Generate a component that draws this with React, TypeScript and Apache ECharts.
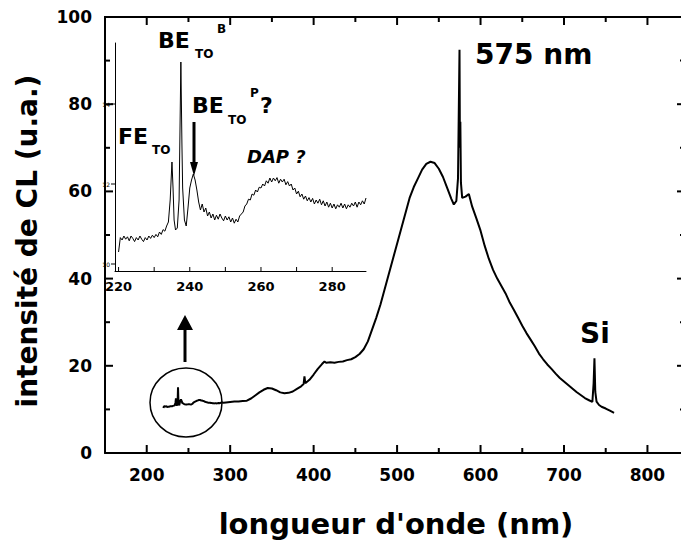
import React, { useEffect, useRef } from "react";
import * as echarts from "echarts";

// Inset data (nm, intensity u.a.) — zoom of the 220–290 nm region
const INSET_DATA: [number, number][] = [
  [220.0, 10.3], [220.5, 10.66], [221.0, 10.6], [221.5, 10.7], [222.0, 10.62], [222.5, 10.68],
  [223.0, 10.58], [223.5, 10.7], [224.0, 10.64], [224.5, 10.56], [225.0, 10.66], [225.5, 10.6],
  [226.0, 10.7], [226.5, 10.62], [227.0, 10.56], [227.5, 10.66], [228.0, 10.6], [228.5, 10.7],
  [229.0, 10.64], [229.5, 10.72], [230.0, 10.66], [230.5, 10.74], [231.0, 10.68], [231.5, 10.8],
  [232.0, 10.74], [232.5, 10.86], [233.0, 10.82], [233.5, 10.95], [234.0, 11.05], [234.5, 11.6],
  [235.0, 12.55], [235.3, 11.9], [235.6, 11.1], [236.0, 10.85], [236.5, 10.9], [237.0, 11.6],
  [237.5, 15.05], [237.8, 13.0], [238.0, 11.9], [238.5, 11.1], [239.0, 10.95], [239.5, 11.4],
  [240.0, 11.9], [240.5, 12.1], [241.0, 12.25], [241.5, 12.1], [242.0, 11.85], [242.5, 11.55],
  [243.0, 11.35], [243.5, 11.5], [244.0, 11.3], [244.5, 11.4], [245.0, 11.2], [245.5, 11.3],
  [246.0, 11.15], [246.5, 11.25], [247.0, 11.1], [247.5, 11.22], [248.0, 11.12], [248.5, 11.25],
  [249.0, 11.15], [249.5, 11.08], [250.0, 11.2], [250.5, 11.1], [251.0, 11.18], [251.5, 11.05],
  [252.0, 11.15], [252.5, 11.02], [253.0, 11.12], [253.5, 11.05], [254.0, 11.2], [254.5, 11.25],
  [255.0, 11.3], [255.5, 11.45], [256.0, 11.5], [256.5, 11.62], [257.0, 11.6], [257.5, 11.75],
  [258.0, 11.72], [258.5, 11.85], [259.0, 11.8], [259.5, 11.92], [260.0, 11.9], [260.5, 12.0],
  [261.0, 11.95], [261.5, 12.08], [262.0, 12.02], [262.5, 12.15], [263.0, 12.05], [263.5, 12.15],
  [264.0, 12.08], [264.5, 12.16], [265.0, 12.02], [265.5, 12.12], [266.0, 12.05], [266.5, 12.12],
  [267.0, 11.98], [267.5, 12.06], [268.0, 11.95], [268.5, 12.0], [269.0, 11.85], [269.5, 11.9],
  [270.0, 11.75], [270.5, 11.82], [271.0, 11.68], [271.5, 11.75], [272.0, 11.62], [272.5, 11.7],
  [273.0, 11.58], [273.5, 11.66], [274.0, 11.55], [274.5, 11.64], [275.0, 11.5], [275.5, 11.6],
  [276.0, 11.52], [276.5, 11.62], [277.0, 11.48], [277.5, 11.58], [278.0, 11.45], [278.5, 11.55],
  [279.0, 11.42], [279.5, 11.52], [280.0, 11.4], [280.5, 11.5], [281.0, 11.38], [281.5, 11.48],
  [282.0, 11.42], [282.5, 11.52], [283.0, 11.4], [283.5, 11.5], [284.0, 11.38], [284.5, 11.48],
  [285.0, 11.42], [285.5, 11.52], [286.0, 11.45], [286.5, 11.55], [287.0, 11.42], [287.5, 11.55],
  [288.0, 11.48], [288.5, 11.58], [289.0, 11.5], [289.5, 11.65],
];

// Main spectrum beyond 290 nm
const MAIN_DATA: [number, number][] = [
  [292, 11.5], [295, 11.6], [300, 11.7], [305, 11.8], [310, 11.8], [315, 11.9], [320, 12.0],
  [325, 12.5], [330, 13.2], [335, 13.9], [340, 14.5], [345, 14.9], [350, 14.8], [355, 14.4],
  [360, 13.9], [365, 13.7], [370, 13.8], [375, 14.1], [380, 14.7], [385, 15.3], [388, 15.8],
  [389, 17.6], [390, 16.0], [395, 16.8], [400, 18.0], [405, 19.3], [410, 20.4], [413, 21.0],
  [415, 20.7], [420, 20.8], [425, 20.7], [430, 20.9], [435, 21.0], [440, 21.3], [445, 21.5],
  [450, 22.0], [455, 22.7], [460, 23.8], [465, 25.6], [470, 28.3], [475, 31.0], [480, 34.0],
  [485, 37.5], [490, 41.0], [495, 44.5], [500, 48.0], [505, 51.5], [510, 55.0], [515, 58.5],
  [520, 61.0], [525, 63.0], [530, 65.0], [535, 66.3], [540, 66.8], [545, 66.5], [550, 65.2],
  [555, 63.3], [560, 60.8], [565, 58.3], [568, 57.0], [571, 57.8], [573, 63.0], [574.8, 92.5],
  [575.3, 70.0], [575.8, 76.0], [576.5, 62.0], [578, 58.5], [582, 58.8], [586, 59.4],
  [590, 56.5], [595, 53.8], [600, 51.0], [605, 47.5], [610, 44.5], [615, 42.0], [620, 40.0],
  [625, 38.3], [630, 36.6], [635, 34.5], [640, 32.8], [645, 31.0], [650, 29.2], [655, 27.5],
  [660, 26.0], [665, 24.5], [670, 22.8], [675, 21.5], [680, 20.3], [685, 19.3], [690, 18.2],
  [695, 17.2], [700, 16.4], [705, 15.6], [710, 14.8], [715, 14.0], [720, 13.3], [725, 12.6],
  [730, 12.1], [734, 11.7], [735.5, 16.0], [736.5, 21.7], [737.5, 14.0], [739, 11.8],
  [742, 11.0], [745, 10.6], [750, 10.2], [755, 9.7], [760, 9.2],
];

const X_MIN = 150;
const X_MAX = 845;
const X_MAJOR_TICKS = [200, 300, 400, 500, 600, 700, 800];
const X_MINOR_TICKS = [250, 350, 450, 550, 650, 750];
const Y_MAJOR_TICKS = [20, 40, 60, 80];
const Y_MINOR_TICKS = [10, 30, 50, 70, 90];
const INSET_X_MIN = 219;
const INSET_Y_MIN = 9.825;
const INSET_Y_MAX = 15.525;
const INSET_X_TICKS = [220, 230, 240, 250, 260, 270, 280];
const INSET_X_LABELS = [220, 240, 260, 280];
const INSET_Y_LABELS = [10, 12, 14];

const X_TITLE = "longueur d'onde (nm)";
const Y_TITLE = "intensité de CL (u.a.)";

const FONT = "DejaVu Sans";

export default function App() {
  const ref = useRef<HTMLDivElement>(null);

  useEffect(() => {
    document.body.style.margin = "0";
    const chart = echarts.init(ref.current!, undefined, { renderer: "svg" });

    const txt = (text: string, x: number, y: number, size: number, extra: any = {}) => ({
      type: "text",
      x,
      y,
      style: {
        text,
        fill: "#000",
        font: `${extra.italic ? "italic " : ""}bold ${size}px "${FONT}"`,
        textAlign: extra.align || "left",
        textVerticalAlign: "middle",
      },
      rotation: extra.rotation || 0,
      z: 10,
    });

    chart.setOption({
      animation: false,
      grid: [
        { left: 105, top: 17, width: 580, height: 436, outerBoundsMode: "none" },
        { left: 115, top: 43, width: 251, height: 228, outerBoundsMode: "none" },
      ],
      xAxis: [
        {
          type: "value", gridIndex: 0, min: X_MIN, max: X_MAX, position: "bottom",
          splitLine: { show: false },
          axisLine: { show: true, lineStyle: { color: "#000", width: 2 } },
          axisTick: { show: false },
          axisLabel: {
            show: true, customValues: X_MAJOR_TICKS, margin: 13, color: "#000",
            fontFamily: FONT, fontWeight: "bold", fontSize: 17,
          },
        },
        {
          type: "value", gridIndex: 1, min: INSET_X_MIN, max: 289.5, position: "bottom",
          splitLine: { show: false },
          axisLine: { show: true, lineStyle: { color: "#000", width: 1 } },
          axisTick: { show: false },
          axisLabel: {
            show: true, customValues: INSET_X_LABELS, margin: 9, color: "#000",
            fontFamily: FONT, fontWeight: "bold", fontSize: 13,
          },
        },
      ],
      yAxis: [
        {
          type: "value", gridIndex: 0, min: 0, max: 100, interval: 20, position: "left",
          splitLine: { show: false },
          axisLine: { show: true, lineStyle: { color: "#000", width: 2 } },
          axisTick: { show: false },
          axisLabel: { show: true, margin: 13, color: "#000", fontFamily: FONT, fontWeight: "bold", fontSize: 17 },
        },
        {
          type: "value", gridIndex: 1, min: INSET_Y_MIN, max: INSET_Y_MAX, position: "left",
          splitLine: { show: false },
          axisLine: { show: true, lineStyle: { color: "#000", width: 1 } },
          axisTick: { show: false },
          axisLabel: { show: true, customValues: INSET_Y_LABELS, margin: 5, color: "#000", fontFamily: FONT, fontSize: 6 },
        },
      ],
      series: [
        {
          type: "line",
          xAxisIndex: 0,
          yAxisIndex: 0,
          data: [...INSET_DATA, ...MAIN_DATA],
          showSymbol: false,
          symbol: "none",
          lineStyle: { color: "#000", width: 2 },
        },
        {
          type: "line",
          xAxisIndex: 1,
          yAxisIndex: 1,
          data: INSET_DATA,
          showSymbol: false,
          symbol: "none",
          lineStyle: { color: "#000", width: 1 },
        },
      ],
    });

    // Frame and ticks as filled bars, positioned through the chart's own scales
    const main = (x: number, y: number) => chart.convertToPixel({ xAxisIndex: 0, yAxisIndex: 0 }, [x, y]) as number[];
    const inset = (x: number, y: number) => chart.convertToPixel({ xAxisIndex: 1, yAxisIndex: 1 }, [x, y]) as number[];
    const bar = (x: number, y: number, width: number, height: number) => ({
      type: "rect",
      shape: { x, y, width, height },
      style: { fill: "#000" },
      z: 5,
    });
    const marks: any[] = [];
    const [xL, yB] = main(X_MIN, 0);
    const [xR, yT] = main(X_MAX, 100);
    marks.push(bar(xL - 1, yT - 1, xR - xL + 2, 2));
    marks.push(bar(xR - 1, yT - 1, 2, yB - yT + 2));
    X_MAJOR_TICKS.forEach((v) => {
      const [x] = main(v, 0);
      marks.push(bar(x - 1, yB - 8, 2, 8));
      marks.push(bar(x - 1, yT, 2, 8));
    });
    X_MINOR_TICKS.forEach((v) => {
      const [x] = main(v, 0);
      marks.push(bar(x - 1, yB - 5, 2, 5));
      marks.push(bar(x - 1, yT, 2, 5));
    });
    Y_MAJOR_TICKS.forEach((v) => {
      const [, y] = main(X_MIN, v);
      marks.push(bar(xL, y - 1, 8, 2));
      marks.push(bar(xR - 8, y - 1, 8, 2));
    });
    Y_MINOR_TICKS.forEach((v) => {
      const [, y] = main(X_MIN, v);
      marks.push(bar(xL, y - 1, 5, 2));
      marks.push(bar(xR - 5, y - 1, 5, 2));
    });
    const [ixL, iyB] = inset(INSET_X_MIN, INSET_Y_MIN);
    INSET_X_TICKS.forEach((v) => {
      const [x] = inset(v, INSET_Y_MIN);
      marks.push(bar(x - 0.5, iyB - 4, 1, 4));
    });
    INSET_Y_LABELS.forEach((v) => {
      const [, y] = inset(INSET_X_MIN, v);
      marks.push(bar(ixL - 4, y - 0.5, 4, 1));
    });

    chart.setOption({
      graphic: [
        txt(X_TITLE, 396, 524, 29, { align: "center" }),
        txt(Y_TITLE, 27, 241, 28, { align: "center", rotation: Math.PI / 2 }),
        txt("575 nm", 475, 54, 28),
        txt("Si", 580, 333, 28),
        // BE_TO^B
        txt("BE", 158, 40, 22),
        txt("TO", 195, 54, 12),
        txt("B", 217, 28.5, 12),
        // BE_TO^P ?
        txt("BE", 192, 105.5, 22),
        txt("TO", 228, 119.5, 12),
        txt("P", 250, 93, 12),
        txt("?", 260, 105.5, 22),
        // FE_TO
        txt("FE", 118, 136, 22),
        txt("TO", 152, 150, 12),
        // DAP ?
        txt("DAP ?", 247, 156.5, 18, { italic: true }),
        // inset arrow (down)
        { type: "rect", shape: { x: 192.5, y: 122, width: 3, height: 42 }, style: { fill: "#000" }, z: 10 },
        { type: "polygon", shape: { points: [[190, 162], [198, 162], [194, 176]] }, style: { fill: "#000" }, z: 10 },
        // main arrow (up)
        { type: "rect", shape: { x: 183.5, y: 328, width: 3, height: 34 }, style: { fill: "#000" }, z: 10 },
        { type: "polygon", shape: { points: [[177, 330], [193, 330], [185, 315]] }, style: { fill: "#000" }, z: 10 },
        // circle around the zoomed region
        { type: "ellipse", shape: { cx: 186, cy: 402.5, rx: 36, ry: 34.5 }, style: { fill: "none", stroke: "#000", lineWidth: 1.5 }, z: 10 },
        ...marks,
      ],
    });
    return () => chart.dispose();
  }, []);

  return <div ref={ref} style={{ position: "absolute", left: 0, top: 0, width: 681, height: 542 }} />;
}
